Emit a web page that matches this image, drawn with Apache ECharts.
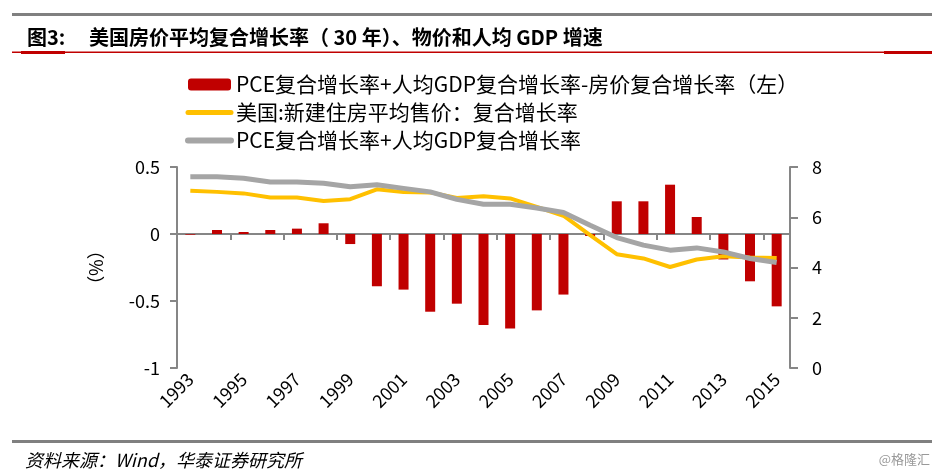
<!DOCTYPE html>
<html>
<head>
<meta charset="utf-8">
<script src="https://cdn.jsdelivr.net/npm/echarts@6/dist/echarts.min.js"></script>
<style>
html,body{margin:0;padding:0;background:#fff;}
#c{width:938px;height:475px;}
</style>
</head>
<body>
<div id="c"></div>
<script>
const years = ['1993','1994','1995','1996','1997','1998','1999','2000','2001','2002','2003','2004','2005','2006','2007','2008','2009','2010','2011','2012','2013','2014','2015'];
const diffBar = [-0.005, 0.03, 0.015, 0.03, 0.04, 0.08, -0.075, -0.39, -0.415, -0.58, -0.52, -0.68, -0.705, -0.57, -0.452, -0.015, 0.244, 0.244, 0.368, 0.127, -0.19, -0.353, -0.54];
const housePrice = [7.05, 7.01, 6.95, 6.79, 6.79, 6.65, 6.72, 7.11, 7.00, 6.99, 6.77, 6.84, 6.75, 6.41, 6.06, 5.29, 4.53, 4.36, 4.02, 4.32, 4.45, 4.40, 4.38];
const pceGdp = [7.61, 7.61, 7.55, 7.40, 7.40, 7.35, 7.21, 7.29, 7.15, 7.01, 6.71, 6.52, 6.52, 6.37, 6.19, 5.68, 5.19, 4.89, 4.69, 4.78, 4.62, 4.36, 4.20];
const leftTicks = {min: -1, max: 0.5, interval: 0.5};
const rightTicks = {min: 0, max: 8, interval: 2};
const names = ['PCE复合增长率+人均GDP复合增长率-房价复合增长率（左）', '美国:新建住房平均售价：复合增长率', 'PCE复合增长率+人均GDP复合增长率'];

const FONT = '"Noto Sans CJK SC", "Noto Sans", sans-serif';
const axisGray = '#868686';
const chart = echarts.init(document.getElementById('c'), null, {renderer: 'canvas'});
chart.setOption({
  animation: false,
  textStyle: {fontFamily: FONT},
  grid: {left: 177, right: 148, top: 167, bottom: 107},
  legend: {
    orient: 'vertical', left: 180, top: 69, itemGap: 7,
    itemWidth: 43, itemHeight: 12,
    textStyle: {fontSize: 21, lineHeight: 20, color: '#000', fontFamily: FONT},
    data: [
      {name: names[0]},
      {name: names[1], itemStyle: {opacity: 0}, lineStyle: {width: 5, cap: 'round'}},
      {name: names[2], itemStyle: {opacity: 0}, lineStyle: {width: 6, cap: 'round'}}
    ]
  },
  graphic: [
    {type: 'rect', shape: {x: 12, y: 13, width: 920, height: 3}, style: {fill: '#808080'}},
    {type: 'text', left: 27, top: 27, style: {text: '图3:', font: 'bold 20px ' + FONT, fill: '#000'}},
    {type: 'text', left: 89, top: 27, style: {text: '美国房价平均复合增长率（ 30 年）、物价和人均 GDP 增速', font: 'bold 20px ' + FONT, fill: '#000'}},
    {type: 'rect', shape: {x: 12, y: 51.5, width: 920, height: 1.5}, style: {fill: '#C00000'}},
    {type: 'rect', shape: {x: 21, y: 51, width: 44, height: 3}, style: {fill: '#C00000'}},
    {type: 'rect', shape: {x: 884, y: 51, width: 48, height: 3}, style: {fill: '#C00000'}},
    {type: 'rect', shape: {x: 12, y: 440, width: 920, height: 3}, style: {fill: '#808080'}},
    {type: 'text', left: 25, top: 451, style: {text: '资料来源：Wind，华泰证券研究所', font: 'italic 18px ' + FONT, fill: '#000'}},
    {type: 'text', right: 8, top: 453, style: {text: '@格隆汇', font: '13px ' + FONT, fill: '#999'}}
  ],
  xAxis: [
    {
      type: 'category', data: years, position: 'bottom',
      axisLine: {onZero: true, onZeroAxisIndex: 0, lineStyle: {color: axisGray, width: 2}},
      axisTick: {show: true, interval: 1, length: 6, lineStyle: {color: axisGray, width: 2}},
      axisLabel: {show: false}
    },
    {
      type: 'category', data: years, position: 'bottom',
      axisLine: {show: false, onZero: false},
      axisTick: {show: false},
      axisLabel: {show: true, interval: 1, rotate: 45, fontSize: 18, color: '#000', margin: 8, fontFamily: FONT}
    }
  ],
  yAxis: [
    {
      type: 'value', position: 'left', min: leftTicks.min, max: leftTicks.max, interval: leftTicks.interval,
      name: '（%）', nameLocation: 'middle', nameRotate: -90, nameGap: 72,
      nameTextStyle: {fontSize: 18, color: '#000', fontFamily: FONT},
      axisLine: {show: true, lineStyle: {color: axisGray, width: 2}},
      axisTick: {show: true, length: 7, lineStyle: {color: axisGray, width: 2}},
      axisLabel: {fontSize: 18, color: '#000', margin: 17, fontFamily: FONT},
      splitLine: {show: false}
    },
    {
      type: 'value', position: 'right', min: rightTicks.min, max: rightTicks.max, interval: rightTicks.interval,
      axisLine: {show: true, lineStyle: {color: axisGray, width: 2}},
      axisTick: {show: true, length: 8, lineStyle: {color: axisGray, width: 2}},
      axisLabel: {fontSize: 18, color: '#000', margin: 22, fontFamily: FONT},
      splitLine: {show: false}
    }
  ],
  series: [
    {name: names[0], type: 'bar', xAxisIndex: 0, yAxisIndex: 0, data: diffBar, barWidth: 10,
     itemStyle: {color: '#C00000'}},
    {name: names[1], type: 'line', xAxisIndex: 0, yAxisIndex: 1, data: housePrice, showSymbol: false, symbol: 'none',
     lineStyle: {color: '#FFC000', width: 4}, itemStyle: {color: '#FFC000'}},
    {name: names[2], type: 'line', xAxisIndex: 0, yAxisIndex: 1, data: pceGdp, showSymbol: false, symbol: 'none',
     lineStyle: {color: '#A5A5A5', width: 5}, itemStyle: {color: '#A5A5A5'}}
  ]
});
</script>
</body>
</html>
